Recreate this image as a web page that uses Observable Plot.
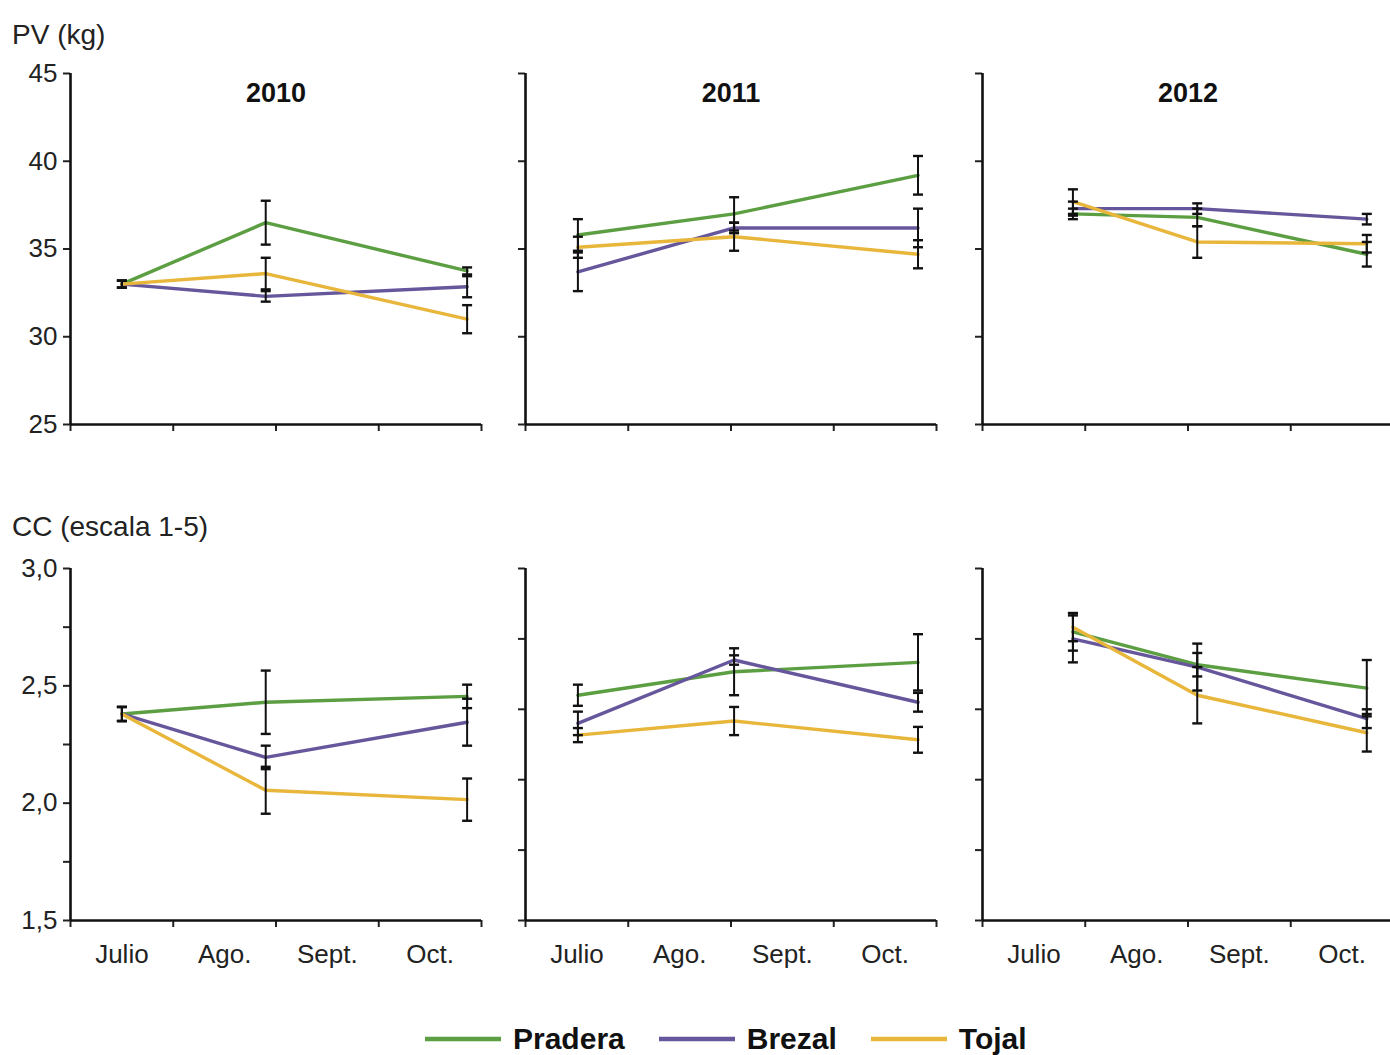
<!DOCTYPE html>
<html>
<head>
<meta charset="utf-8">
<script src="https://cdn.jsdelivr.net/npm/d3@7"></script>
<script src="https://cdn.jsdelivr.net/npm/@observablehq/plot@0.6"></script>
<style>
  body { margin: 0; background: #fff; font-family: "Liberation Sans", Arial, sans-serif; }
  #root { position: relative; width: 1390px; height: 1055px; overflow: hidden; background: #fff; }
  .panel { position: absolute; width: 483px; }
  .panel svg { overflow: visible; max-width: none !important; }
  .axis-title { position: absolute; left: 12px; font-size: 28px; color: #222; line-height: 1; white-space: nowrap; }
  #legend { position: absolute; left: 425px; top: 1022px; display: flex; align-items: center; }
  #legend .item { display: flex; align-items: center; margin-right: 34px; }
  #legend .item span { font-weight: bold; font-size: 30px; color: #111; margin-left: 12px; }
</style>
</head>
<body>
<div id="root"></div>
<script>
// Campaigns, months on the x axis and grazing groups
const years = ["2010", "2011", "2012"];
const months = ["Julio", "Ago.", "Sept.", "Oct."];
const groups = ["Pradera", "Brezal", "Tojal"];
const groupColors = ["#5c9e42", "#66579c", "#e8b63a"];

// Position of each sampling date along the month axis (0 = start of July), one row per year
const sampleX = [
  [0.50, 1.90, 3.86],
  [0.51, 2.03, 3.82],
  [0.88, 2.09, 3.74]
];

// Live weight PV (kg): mean and error, one row per year
const pvPradera = [[33.0, 36.5, 33.75], [35.8, 37.0, 39.2], [37.0, 36.8, 34.7]];
const pvPraderaErr = [[0.2, 1.25, 0.2], [0.9, 0.95, 1.1], [0.3, 0.5, 0.7]];
const pvBrezal = [[33.0, 32.3, 32.85], [33.7, 36.2, 36.2], [37.3, 37.3, 36.7]];
const pvBrezalErr = [[0.2, 0.3, 0.6], [1.1, 0.3, 1.1], [0.4, 0.3, 0.3]];
const pvTojal = [[33.0, 33.6, 31.0], [35.1, 35.7, 34.7], [37.7, 35.4, 35.3]];
const pvTojalErr = [[0.2, 0.9, 0.8], [0.6, 0.8, 0.8], [0.7, 0.9, 0.5]];

// Body condition CC (scale 1-5): mean and error, one row per year
const ccPradera = [[2.38, 2.43, 2.455], [2.46, 2.56, 2.60], [2.73, 2.59, 2.49]];
const ccPraderaErr = [[0.03, 0.135, 0.05], [0.045, 0.10, 0.12], [0.08, 0.05, 0.12]];
const ccBrezal = [[2.38, 2.195, 2.345], [2.34, 2.61, 2.43], [2.70, 2.58, 2.36]];
const ccBrezalErr = [[0.03, 0.05, 0.10], [0.05, 0.02, 0.04], [0.10, 0.10, 0.04]];
const ccTojal = [[2.38, 2.055, 2.015], [2.29, 2.35, 2.27], [2.75, 2.46, 2.30]];
const ccTojalErr = [[0.03, 0.10, 0.09], [0.03, 0.06, 0.055], [0.06, 0.12, 0.08]];

// Axis ticks
const pvTicks = [25, 30, 35, 40, 45];
const ccTicksFirst = [1.5, 1.75, 2.0, 2.25, 2.5, 2.75, 3.0];
const ccTicksOther = [1.5, 1.8, 2.1, 2.4, 2.7, 3.0];
const ccLabels = [1.5, 2.0, 2.5, 3.0];

function rows(means, errs, yearIndex) {
  const out = [];
  groups.forEach((g, gi) => {
    means[gi][yearIndex].forEach((v, j) => {
      out.push({group: g, x: sampleX[yearIndex][j], v, e: errs[gi][yearIndex][j]});
    });
  });
  return out;
}

// Horizontal cap drawn at the ends of each error bar
const capSymbol = {draw(ctx) { ctx.moveTo(-5, 0); ctx.lineTo(5, 0); }};

const root = document.getElementById("root");
const panelLeft = [0, 455, 912];
const font = `"Liberation Sans", Arial, sans-serif`;

function panel({yearIndex, means, errs, domain, ticks, labelTicks, fmt, top, height, marginBottom, showTitle, showMonths}) {
  const data = rows(means, errs, yearIndex);
  const first = yearIndex === 0;
  const marks = [
    Plot.axisY({
      ticks,
      label: null,
      tickSize: 7,
      tickPadding: 6,
      strokeWidth: 2,
      fontSize: 26,
      tickFormat: d => (first && labelTicks.some(t => Math.abs(t - d) < 1e-9)) ? fmt(d) : ""
    }),
    Plot.axisX({ticks: [0, 1, 2, 3, 4], label: null, tickSize: 7, strokeWidth: 2, tickFormat: () => ""}),
    Plot.ruleX([0], {stroke: "#111", strokeWidth: 2.6}),
    Plot.ruleY([domain[0]], {stroke: "#111", strokeWidth: 2.6}),
    Plot.line(data, {x: "x", y: "v", z: "group", stroke: "group", strokeWidth: 3.4}),
    Plot.ruleX(data, {x: "x", y1: d => d.v - d.e, y2: d => d.v + d.e, stroke: "#111", strokeWidth: 2}),
    Plot.dot(data, {x: "x", y: d => d.v - d.e, symbol: capSymbol, fill: "none", stroke: "#111", strokeWidth: 2.4}),
    Plot.dot(data, {x: "x", y: d => d.v + d.e, symbol: capSymbol, fill: "none", stroke: "#111", strokeWidth: 2.4})
  ];
  if (showTitle) {
    marks.push(Plot.text([years[yearIndex]], {frameAnchor: "top", dy: 20, lineAnchor: "middle", fontSize: 27, fontWeight: "bold", fill: "#111"}));
  }
  if (showMonths) {
    marks.push(Plot.text(months, {x: (d, i) => i + 0.5, frameAnchor: "bottom", dy: 34, lineAnchor: "middle", fontSize: 26, fill: "#222"}));
  }
  const chart = Plot.plot({
    width: 483,
    height,
    marginLeft: 70,
    marginRight: 2,
    marginTop: 73,
    marginBottom,
    style: {fontFamily: font, color: "#222", background: "transparent", overflow: "visible"},
    x: {domain: [0, 4], label: null},
    y: {domain, label: null},
    color: {domain: groups, range: groupColors},
    marks
  });
  const div = document.createElement("div");
  div.className = "panel";
  div.style.left = panelLeft[yearIndex] + "px";
  div.style.top = top + "px";
  div.appendChild(chart);
  root.appendChild(div);
}

const pvFmt = d => String(d);
const ccFmt = d => d.toFixed(1).replace(".", ",");

years.forEach((y, i) => {
  panel({
    yearIndex: i,
    means: [pvPradera, pvBrezal, pvTojal],
    errs: [pvPraderaErr, pvBrezalErr, pvTojalErr],
    domain: [25, 45],
    ticks: pvTicks,
    labelTicks: pvTicks,
    fmt: pvFmt,
    top: 0,
    height: 444,
    marginBottom: 20,
    showTitle: true,
    showMonths: false
  });
  panel({
    yearIndex: i,
    means: [ccPradera, ccBrezal, ccTojal],
    errs: [ccPraderaErr, ccBrezalErr, ccTojalErr],
    domain: [1.5, 3.0],
    ticks: i === 0 ? ccTicksFirst : ccTicksOther,
    labelTicks: ccLabels,
    fmt: ccFmt,
    top: 495,
    height: 485,
    marginBottom: 60,
    showTitle: false,
    showMonths: true
  });
});

// Axis titles
const pvTitle = document.createElement("div");
pvTitle.className = "axis-title";
pvTitle.style.top = "21px";
pvTitle.textContent = "PV (kg)";
root.appendChild(pvTitle);

const ccTitle = document.createElement("div");
ccTitle.className = "axis-title";
ccTitle.style.top = "513px";
ccTitle.textContent = "CC (escala 1-5)";
root.appendChild(ccTitle);

// Legend
const legend = document.createElement("div");
legend.id = "legend";
groups.forEach((g, i) => {
  const item = document.createElement("div");
  item.className = "item";
  item.innerHTML = `<svg width="76" height="8"><line x1="0" x2="76" y1="4" y2="4" stroke="${groupColors[i]}" stroke-width="4.5"/></svg><span>${g}</span>`;
  legend.appendChild(item);
});
root.appendChild(legend);
</script>
</body>
</html>
